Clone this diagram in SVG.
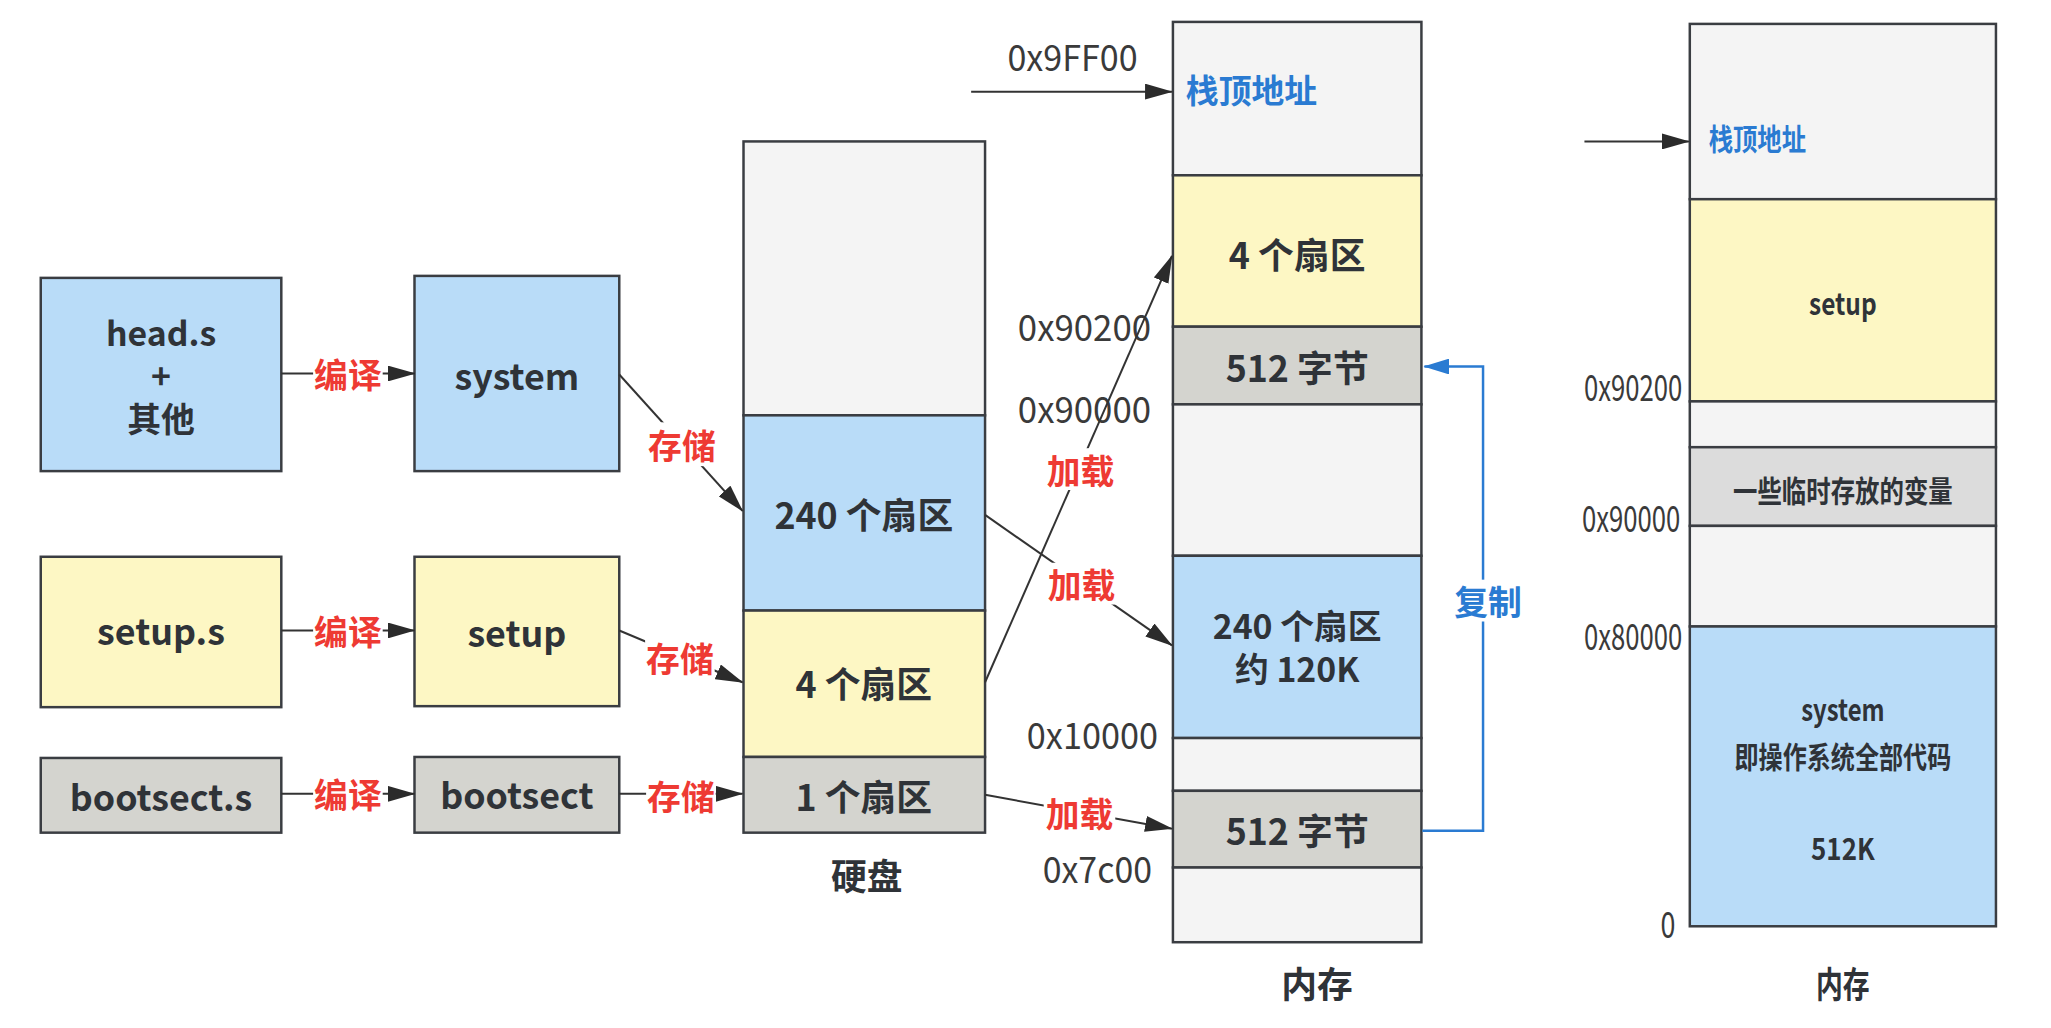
<svg xmlns="http://www.w3.org/2000/svg" width="2051" height="1028" viewBox="0 0 2051 1028">
<style>
.bx{stroke:#3a3d42;stroke-width:2.5}
.b{fill:#b9dcf8}.y{fill:#fdf7c4}.g{fill:#d4d4cf}.e{fill:#f4f4f4}.g2{fill:#dcdcdc}
text{font-family:"Noto Sans CJK SC","Liberation Sans",sans-serif;dominant-baseline:central}
.t{font-size:36px;font-weight:bold;fill:#2f3338;text-anchor:middle}
.t2{font-size:34px;font-weight:bold;fill:#2f3338;text-anchor:middle}
.r{font-size:30px;font-weight:bold;fill:#2f3338;text-anchor:middle}
.lbl{font-size:34px;font-weight:bold;fill:#ee3a33;text-anchor:middle}
.blu{font-size:33px;font-weight:bold;fill:#2a7bd2}
.ad{font-size:36px;fill:#3a3a3a;text-anchor:middle}
.cn{stroke:#333;stroke-width:2;fill:none}
.bl{stroke:#2a7bd2;stroke-width:2.5;fill:none}
.wb{fill:#fff}
</style>
<defs>
<marker id="ah" markerUnits="userSpaceOnUse" markerWidth="28" markerHeight="16" viewBox="0 0 28 16" refX="27" refY="8" orient="auto"><path d="M0,0 L28,8 L0,16 z" fill="#2b2b2b"/></marker>
<marker id="ahb" markerUnits="userSpaceOnUse" markerWidth="26" markerHeight="16" viewBox="0 0 26 16" refX="25" refY="8" orient="auto"><path d="M0,0 L26,8 L0,16 z" fill="#2a7bd2"/></marker>
</defs>
<rect width="2051" height="1028" fill="#fff"/>
<g transform="scale(0.994,0.996)">
<g id="head-s"><rect class="bx b" x="41" y="279" width="242" height="194"/>
<text class="t2" x="162" y="333">head.s</text><text class="t2" x="162" y="376">+</text><text class="t2" x="162" y="419">其他</text></g>
<g id="system"><rect class="bx b" x="417" y="277" width="206" height="196"/><text class="t" x="520" y="375">system</text></g>
<g id="setup-s"><rect class="bx y" x="41" y="559" width="242" height="151"/><text class="t" x="162" y="632">setup.s</text></g>
<g id="setup"><rect class="bx y" x="417" y="559" width="206" height="150"/><text class="t" x="520" y="634">setup</text></g>
<g id="bootsect-s"><rect class="bx g" x="41" y="761" width="242" height="75"/><text class="t" x="162" y="798">bootsect.s</text></g>
<g id="bootsect"><rect class="bx g" x="417" y="760" width="206" height="76"/><text class="t" x="520" y="796">bootsect</text></g>

<g id="disk">
<rect class="bx e" x="748" y="142" width="243" height="275"/>
<rect class="bx b" x="748" y="417" width="243" height="196"/>
<rect class="bx y" x="748" y="613" width="243" height="147"/>
<rect class="bx g" x="748" y="760" width="243" height="76"/>
<text class="t" x="869" y="515">240 个扇区</text>
<text class="t" x="869" y="685">4 个扇区</text>
<text class="t" x="869" y="798">1 个扇区</text>
<text class="t" x="872" y="877">硬盘</text>
</g>

<g id="memory1">
<rect class="bx e" x="1180" y="22" width="250" height="154"/>
<rect class="bx y" x="1180" y="176" width="250" height="152"/>
<rect class="bx g" x="1180" y="328" width="250" height="78"/>
<rect class="bx e" x="1180" y="406" width="250" height="152"/>
<rect class="bx b" x="1180" y="558" width="250" height="183"/>
<rect class="bx e" x="1180" y="741" width="250" height="53"/>
<rect class="bx g" x="1180" y="794" width="250" height="77"/>
<rect class="bx e" x="1180" y="871" width="250" height="75"/>
<text class="blu" x="1193" y="89">栈顶地址</text>
<text class="t" x="1305" y="254">4 个扇区</text>
<text class="t" x="1305" y="367">512 字节</text>
<text class="t2" x="1305" y="627">240 个扇区</text>
<text class="t2" x="1305" y="670">约 120K</text>
<text class="t" x="1305" y="832">512 字节</text>
<text class="t" x="1325" y="986">内存</text>
<text class="ad" x="1079" y="55" textLength="131" lengthAdjust="spacingAndGlyphs">0x9FF00</text>
<text class="ad" x="1091" y="326" textLength="134" lengthAdjust="spacingAndGlyphs">0x90200</text>
<text class="ad" x="1091" y="409" textLength="134" lengthAdjust="spacingAndGlyphs">0x90000</text>
<text class="ad" x="1099" y="736" textLength="132" lengthAdjust="spacingAndGlyphs">0x10000</text>
<text class="ad" x="1104" y="870" textLength="110" lengthAdjust="spacingAndGlyphs">0x7c00</text>
</g>

<g id="memory2">
<rect class="bx e" x="1700" y="24" width="308" height="176"/>
<rect class="bx y" x="1700" y="200" width="308" height="203"/>
<rect class="bx e" x="1700" y="403" width="308" height="46"/>
<rect class="bx g2" x="1700" y="449" width="308" height="79"/>
<rect class="bx e" x="1700" y="528" width="308" height="101"/>
<rect class="bx b" x="1700" y="629" width="308" height="301"/>
<text class="blu" x="1719" y="138" style="font-size:30px" textLength="98" lengthAdjust="spacingAndGlyphs">栈顶地址</text>
<text class="r" x="1854" y="303" textLength="68" lengthAdjust="spacingAndGlyphs">setup</text>
<text class="r" x="1854" y="491" textLength="221" lengthAdjust="spacingAndGlyphs">一些临时存放的变量</text>
<text class="r" x="1854" y="711" textLength="84" lengthAdjust="spacingAndGlyphs">system</text>
<text class="r" x="1854" y="758" textLength="218" lengthAdjust="spacingAndGlyphs">即操作系统全部代码</text>
<text class="r" x="1854" y="850" textLength="64" lengthAdjust="spacingAndGlyphs">512K</text>
<text class="t" x="1854" y="986" textLength="54" lengthAdjust="spacingAndGlyphs">内存</text>
<text class="ad" x="1643" y="387" textLength="99" lengthAdjust="spacingAndGlyphs">0x90200</text>
<text class="ad" x="1641" y="518" textLength="99" lengthAdjust="spacingAndGlyphs">0x90000</text>
<text class="ad" x="1643" y="637" textLength="99" lengthAdjust="spacingAndGlyphs">0x80000</text>
<text class="ad" x="1678" y="926" textLength="15" lengthAdjust="spacingAndGlyphs">0</text>
</g>

<g id="connectors">
<line class="cn" x1="283" y1="375" x2="417" y2="375" marker-end="url(#ah)"/>
<line class="cn" x1="283" y1="633" x2="417" y2="633" marker-end="url(#ah)"/>
<line class="cn" x1="283" y1="797" x2="417" y2="797" marker-end="url(#ah)"/>
<line class="cn" x1="623" y1="376" x2="747" y2="513" marker-end="url(#ah)"/>
<line class="cn" x1="623" y1="633" x2="747" y2="685" marker-end="url(#ah)"/>
<line class="cn" x1="623" y1="797" x2="747" y2="797" marker-end="url(#ah)"/>
<line class="cn" x1="991" y1="517" x2="1179" y2="648" marker-end="url(#ah)"/>
<line class="cn" x1="991" y1="685" x2="1179" y2="257" marker-end="url(#ah)"/>
<line class="cn" x1="991" y1="798" x2="1179" y2="832" marker-end="url(#ah)"/>
<line class="cn" x1="977" y1="92" x2="1179" y2="92" marker-end="url(#ah)"/>
<line class="cn" x1="1594" y1="142" x2="1699" y2="142" marker-end="url(#ah)"/>
<polyline class="bl" points="1431,834 1492,834 1492,368 1433,368" marker-end="url(#ahb)"/>
<rect class="wb" x="315" y="355" width="70" height="42"/><text class="lbl" x="350" y="375">编译</text>
<rect class="wb" x="315" y="612" width="70" height="42"/><text class="lbl" x="350" y="633">编译</text>
<rect class="wb" x="315" y="776" width="70" height="42"/><text class="lbl" x="350" y="797">编译</text>
<rect class="wb" x="651" y="424" width="70" height="44"/><text class="lbl" x="686" y="446">存储</text>
<rect class="wb" x="649" y="639" width="70" height="42"/><text class="lbl" x="684" y="660">存储</text>
<rect class="wb" x="650" y="776" width="70" height="42"/><text class="lbl" x="685" y="799">存储</text>
<rect class="wb" x="1051" y="450" width="72" height="42"/><text class="lbl" x="1087" y="471">加载</text>
<rect class="wb" x="1052" y="565" width="72" height="42"/><text class="lbl" x="1088" y="586">加载</text>
<rect class="wb" x="1050" y="795" width="72" height="42"/><text class="lbl" x="1086" y="816">加载</text>
<rect class="wb" x="1462" y="582" width="70" height="42"/><text class="lbl" x="1497" y="603" style="fill:#2a7bd2">复制</text>
</g>
</g>
</svg>
